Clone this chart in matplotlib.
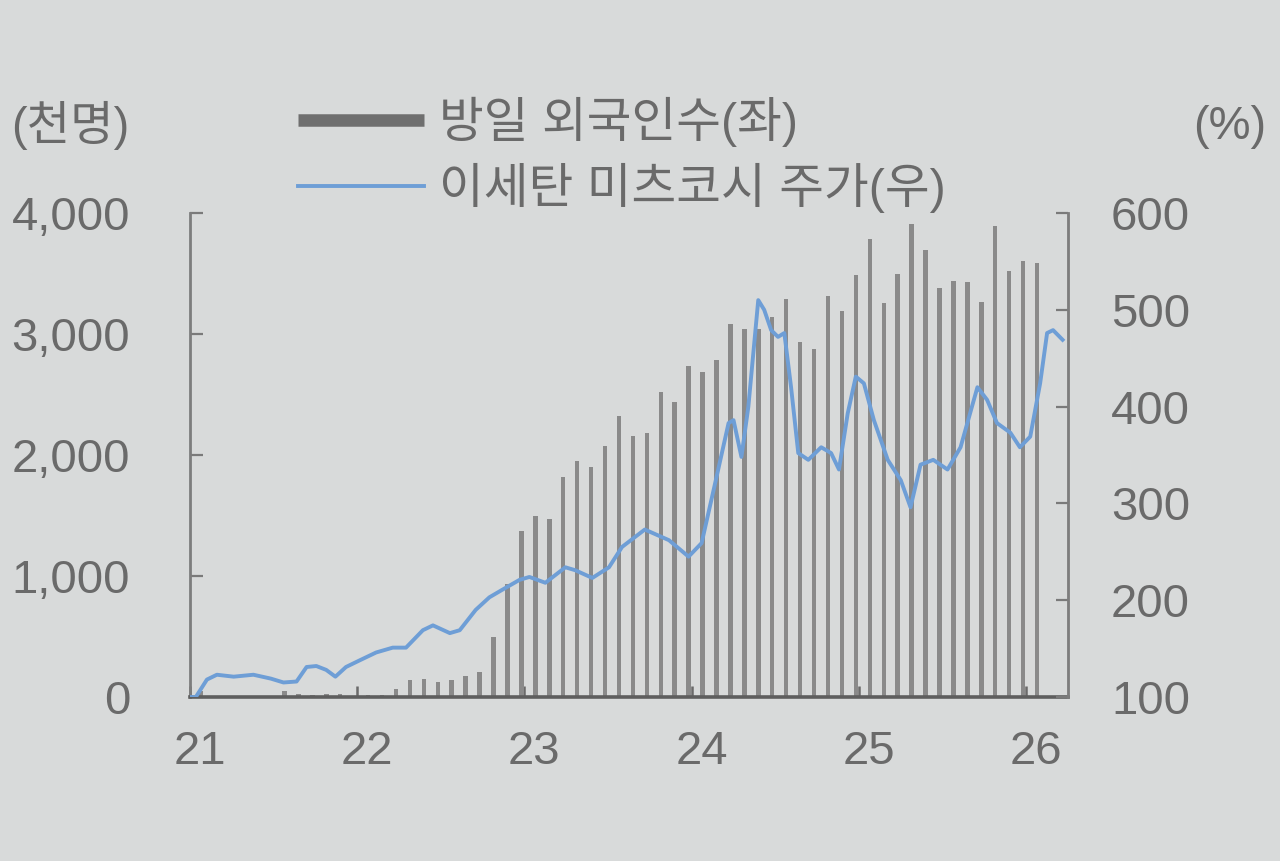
import matplotlib
matplotlib.use("Agg")
import matplotlib.pyplot as plt
from matplotlib.lines import Line2D
import pandas as pd
import numpy as np

plt.rcParams['font.family'] = ['Liberation Sans', 'Noto Sans CJK KR', 'DejaVu Sans']

# ---------------- data ----------------
# monthly foreign visitors to Japan (thousand persons), Jan 2021 .. Jan 2026
visitors = [
    47, 7, 12, 11, 10, 9, 51, 26, 18, 22, 21, 12,                      # 2021
    17, 17, 66, 139, 147, 120, 144, 170, 207, 499, 935, 1370,          # 2022
    1497, 1475, 1817, 1949, 1899, 2073, 2321, 2156, 2184, 2517, 2441, 2734,  # 2023
    2688, 2788, 3082, 3042, 3040, 3140, 3292, 2933, 2872, 3312, 3190, 3489,  # 2024
    3781, 3258, 3497, 3908, 3693, 3378, 3437, 3428, 3267, 3896, 3518, 3600,  # 2025
    3590,                                                               # 2026
]

# Isetan Mitsukoshi share price index (start = 100)
stock_dates = [
    "2021-01-01", "2021-01-14", "2021-02-07", "2021-02-27", "2021-04-05", "2021-05-18",
    "2021-06-25", "2021-07-23", "2021-08-21", "2021-09-12", "2021-10-03", "2021-10-25",
    "2021-11-14", "2021-12-07", "2022-01-07", "2022-02-11", "2022-03-18", "2022-04-16",
    "2022-05-23", "2022-06-14", "2022-07-21", "2022-08-12", "2022-09-16", "2022-10-16",
    "2022-11-14", "2022-12-21", "2023-01-12", "2023-02-15", "2023-03-30", "2023-04-20",
    "2023-05-28", "2023-07-03", "2023-08-01", "2023-09-20", "2023-11-12", "2023-12-25",
    "2024-01-23", "2024-02-19", "2024-03-21", "2024-04-01", "2024-04-18", "2024-05-03",
    "2024-05-25", "2024-06-07", "2024-06-22", "2024-07-07", "2024-07-21", "2024-08-05",
    "2024-08-21", "2024-09-12", "2024-10-10", "2024-11-01", "2024-11-18", "2024-12-07",
    "2024-12-25", "2025-01-12", "2025-02-03", "2025-03-03", "2025-04-01", "2025-04-22",
    "2025-05-14", "2025-06-11", "2025-07-12", "2025-08-10", "2025-09-16", "2025-10-07",
    "2025-10-29", "2025-11-27", "2025-12-18", "2026-01-10", "2026-02-01", "2026-02-15",
    "2026-02-27", "2026-03-20",
]
stock_index = [
    100, 100, 118, 123, 121, 123,
    119, 115, 116, 131, 132, 128,
    121, 131, 138, 146, 151, 151,
    169, 174, 166, 169, 190, 203,
    211, 221, 224, 218, 234, 231,
    223, 234, 255, 273, 262, 245,
    259, 317, 383, 386, 348, 400,
    510, 500, 479, 472, 476, 420,
    352, 345, 358, 352, 335, 393,
    431, 424, 386, 345, 324, 296,
    340, 345, 335, 358, 420, 407,
    383, 373, 358, 369, 424, 476,
    479, 469,
]

year_labels = ["21", "22", "23", "24", "25", "26"]
left_ticks = [0, 1000, 2000, 3000, 4000]
right_ticks = [100, 200, 300, 400, 500, 600]
legend_labels = ["방일 외국인수(좌)", "이세탄 미츠코시 주가(우)"]
left_unit = "(천명)"
right_unit = "(%)"

# ---------------- style ----------------
BG = "#d8dada"
TXT = "#6a6a6a"
BAR_C = "#8a8a8a"
LINE_C = "#6e9ed6"
FS = 34
FS_LEG = 35
BAR_OFFSET = 0.78   # bars drawn near month end
BAR_W = 0.32


def to_month(d):
    d = pd.Timestamp(d)
    return (d.year - 2021) * 12 + (d.month - 1) + (d.day - 1) / d.days_in_month


fig = plt.figure(figsize=(12.8, 8.61), dpi=100)
fig.patch.set_facecolor(BG)
ax = fig.add_axes([190 / 1280, 1 - 697 / 861, (1068 - 190) / 1280, (697 - 213) / 861])
ax.set_facecolor(BG)
ax2 = ax.twinx()

bar_x = np.arange(len(visitors)) + BAR_OFFSET
ax.bar(bar_x, visitors, width=BAR_W, color=BAR_C, zorder=2)

line_x = [to_month(d) for d in stock_dates]
ax2.plot(line_x, stock_index, color=LINE_C, lw=2.8, zorder=3, solid_joinstyle='round')

ax.set_xlim(0, 63)
ax.set_ylim(0, 4000)
ax2.set_ylim(100, 600)

ax.set_yticks(left_ticks)
ax.set_yticklabels([f"{v:,}" for v in left_ticks])
ax2.set_yticks(right_ticks)
ax2.set_yticklabels([str(v) for v in right_ticks])

n_years = len(year_labels)
ax.set_xticks([12 * i for i in range(n_years)])
ax.set_xticklabels([])
ax.set_xticks([12 * i + 0.7 for i in range(n_years)], minor=True)
ax.set_xticklabels(year_labels, minor=True)
ax.tick_params(axis='x', which='minor', length=0, pad=24, labelsize=FS, labelcolor=TXT)
ax.tick_params(axis='x', which='major', direction='in', length=8, width=1.8, color="#6a6a6a")

ax.tick_params(axis='y', direction='in', length=9, width=1.6, color="#7a7a7a",
               pad=43, labelsize=FS, labelcolor=TXT)
ax2.tick_params(axis='y', direction='in', length=9, width=1.6, color="#7a7a7a",
                pad=31, labelsize=FS, labelcolor=TXT)

for a in (ax, ax2):
    a.spines['top'].set_visible(False)
ax.spines['left'].set_color("#7d7d7d")
ax.spines['left'].set_linewidth(2.0)
ax.spines['bottom'].set_color("#5e5e5e")
ax.spines['bottom'].set_linewidth(2.6)
ax2.spines['right'].set_color("#7d7d7d")
ax2.spines['right'].set_linewidth(2.0)
ax2.spines['left'].set_visible(False)
ax2.spines['bottom'].set_visible(False)

fig.text(70 / 1280, 1 - 125 / 861, left_unit, ha='center', va='center', fontsize=FS, color=TXT)
fig.text(1230 / 1280, 1 - 127 / 861, right_unit, ha='center', va='center', fontsize=FS, color=TXT)

handles = [Line2D([0], [0], color="#6f6f6f", lw=9, solid_capstyle='butt'),
           Line2D([0], [0], color=LINE_C, lw=2.8)]
leg = fig.legend(handles, legend_labels, loc='upper left',
                 bbox_to_anchor=(298 / 1280, 1 - 97 / 861),
                 frameon=False, fontsize=FS_LEG, handlelength=2.6, handletextpad=0.3,
                 labelspacing=0.32, borderpad=0, borderaxespad=0)
for t in leg.get_texts():
    t.set_color(TXT)

fig.savefig("out.png", dpi=100, facecolor=BG)
